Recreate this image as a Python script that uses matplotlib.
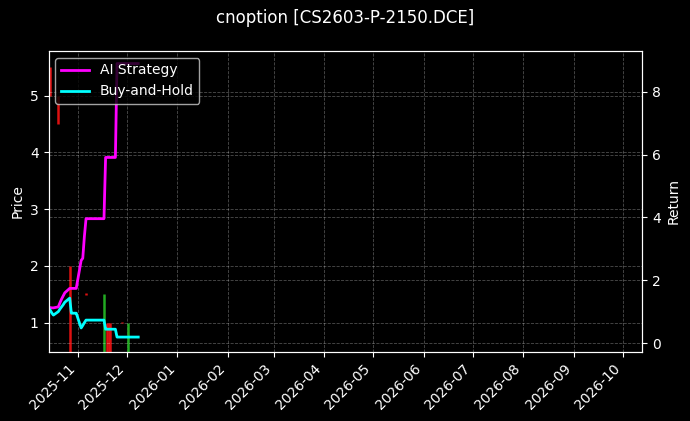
import pandas as pd
import matplotlib
matplotlib.use("Agg")
import matplotlib.pyplot as plt
import matplotlib.dates as mdates

plt.style.use("dark_background")

title = "cnoption [CS2603-P-2150.DCE]"

dates = pd.bdate_range("2025-10-14", "2025-12-08")

strategy = [1.14, 1.13, 1.12, 1.12, 1.15, 1.28, 1.40, 1.50, 1.60, 1.74,
            1.74, 1.74, 1.74, 1.74, 2.63, 2.70, 3.40, 3.96, 3.96, 3.96,
            3.96, 3.96, 3.96, 3.96, 3.96, 5.91, 5.91, 5.91, 5.91, 5.91,
            8.90, 8.90, 8.90, 8.90, 8.90, 8.90, 8.90, 8.90, 8.90, 8.90]

buy_hold = [1.11, 1.05, 0.96, 0.89, 1.00, 1.08, 1.15, 1.22, 1.30, 1.43,
            0.95, 0.95, 0.95, 0.95, 0.48, 0.56, 0.65, 0.73, 0.73, 0.73,
            0.73, 0.73, 0.73, 0.73, 0.73, 0.44, 0.44, 0.44, 0.44, 0.44,
            0.19, 0.19, 0.19, 0.19, 0.19, 0.19, 0.19, 0.19, 0.19, 0.19]

# visible candles (high/low wicks)
candle_dates = pd.to_datetime(["2025-10-15", "2025-10-20", "2025-10-27", "2025-11-06",
                               "2025-11-17", "2025-11-19", "2025-11-20", "2025-11-21",
                               "2025-11-28", "2025-12-02"])
candle_low = [5.0, 4.5, 0.0, 1.48, 0.0, 0.0, 0.0, 0.0, 0.99, 0.0]
candle_high = [5.5, 5.0, 2.0, 1.52, 1.5, 1.0, 1.0, 1.0, 1.01, 1.0]
candle_up = [False, False, False, False, True, False, False, False, False, True]

fig = plt.figure(figsize=(6.9, 4.21), dpi=100)
ax = fig.add_axes([0.0703, 0.1646, 0.8606, 0.7143])
ax2 = ax.twinx()

for d, lo, hi, up in zip(candle_dates, candle_low, candle_high, candle_up):
    col = "#22aa22" if up else "#dd1111"
    ax.vlines(d, lo, hi, color=col, linewidth=1.8)

ax2.plot(dates, strategy, color="magenta", linewidth=2, label="AI Strategy")
ax2.plot(dates, buy_hold, color="cyan", linewidth=2, label="Buy-and-Hold")

ax.set_xlim(pd.Timestamp("2025-10-14"), pd.Timestamp("2026-10-13"))
ax.set_ylim(0.485, 5.79)
ax2.set_ylim(-0.276, 9.30)

ax.xaxis.set_major_locator(mdates.MonthLocator())
ax.xaxis.set_major_formatter(mdates.DateFormatter("%Y-%m"))
for lbl in ax.get_xticklabels():
    lbl.set_rotation(45)
    lbl.set_ha("right")

ax.set_ylabel("Price")
ax2.set_ylabel("Return")
ax.grid(True, linestyle="--", linewidth=0.6, alpha=0.3)
ax2.grid(True, linestyle="--", linewidth=0.6, alpha=0.3)

leg = ax2.legend(loc="upper left", framealpha=0.8)
leg.get_frame().set_facecolor("black")

fig.suptitle(title, y=0.957, va="center", fontsize=12)

fig.savefig("out.png", dpi=100)
